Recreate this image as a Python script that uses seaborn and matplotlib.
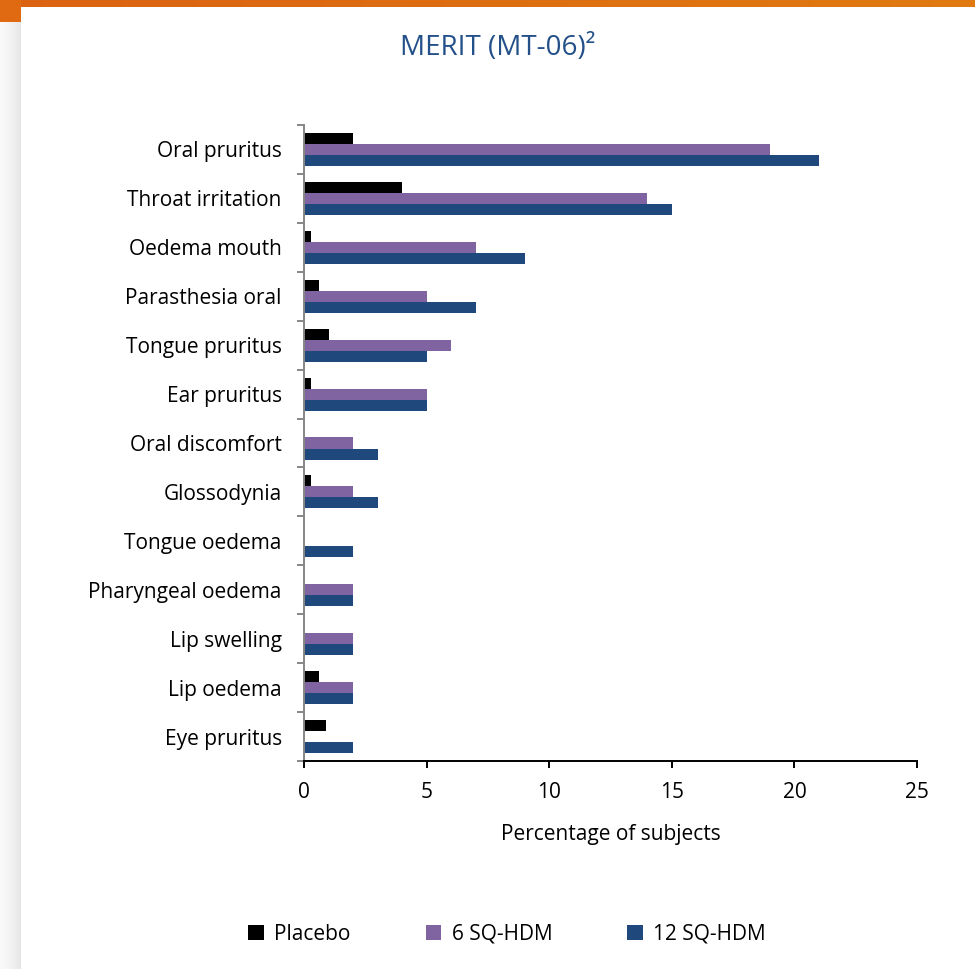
import numpy as np
import pandas as pd
import matplotlib
matplotlib.use("Agg")
import matplotlib.pyplot as plt
from matplotlib.patches import Patch
import seaborn as sns

# Adverse events by treatment arm (% of subjects)
symptoms = [
    "Oral pruritus", "Throat irritation", "Oedema mouth", "Parasthesia oral",
    "Tongue pruritus", "Ear pruritus", "Oral discomfort", "Glossodynia",
    "Tongue oedema", "Pharyngeal oedema", "Lip swelling", "Lip oedema",
    "Eye pruritus",
]
groups = ["Placebo", "6 SQ-HDM", "12 SQ-HDM"]
placebo = [2, 4, 0.3, 0.6, 1, 0.3, 0, 0.3, 0, 0, 0, 0.6, 0.9]
sq6 = [19, 14, 7, 5, 6, 5, 2, 2, 0, 2, 2, 2, 0]
sq12 = [21, 15, 9, 7, 5, 5, 3, 3, 2, 2, 2, 2, 2]
x_ticks = [0, 5, 10, 15, 20, 25]

colors = {"Placebo": "#000000", "6 SQ-HDM": "#8064A2", "12 SQ-HDM": "#1F497D"}

df = pd.DataFrame({
    "symptom": symptoms * 3,
    "group": [g for g in groups for _ in symptoms],
    "pct": placebo + sq6 + sq12,
})

sns.set_theme(style="white")
plt.rcParams["font.family"] = ["Open Sans", "DejaVu Sans"]

W, H = 975, 969
fig = plt.figure(figsize=(W / 100, H / 100), dpi=100)
fig.patch.set_facecolor("white")

# Page decoration: orange header band and grey left margin
band = fig.add_axes([0, 1 - 7 / H, 1, 7 / H])
band.imshow(np.linspace(0, 1, 256)[None, :], aspect="auto",
            cmap=matplotlib.colors.LinearSegmentedColormap.from_list(
                "o", ["#DB6212", "#E07A10"]))
band.axis("off")
corner = fig.add_axes([0, 1 - 22 / H, 21 / W, 22 / H])
corner.set_facecolor("#DF6A12")
corner.set_xticks([]); corner.set_yticks([])
for s in corner.spines.values():
    s.set_visible(False)
margin = fig.add_axes([0, 0, 21 / W, 1 - 22 / H])
margin.imshow(np.linspace(0, 1, 64)[None, :], aspect="auto",
              cmap=matplotlib.colors.LinearSegmentedColormap.from_list(
                  "g", ["#FBFBFB", "#F3F3F3", "#E6E6E6"]))
margin.axis("off")

ax = fig.add_axes([304 / W, 1 - 761 / H, (917 - 304) / W, (761 - 125) / H])
sns.barplot(data=df, y="symptom", x="pct", hue="group", order=symptoms,
            hue_order=groups, palette=colors, orient="h", width=0.675,
            saturation=1, linewidth=0, legend=False, ax=ax)

ax.set_xlim(0, 25)
ax.set_xticks(x_ticks)
ax.set_xticklabels([str(t) for t in x_ticks], fontsize=15)
ax.set_ylim(len(symptoms) - 0.5, -0.5)
ax.set_yticks(range(len(symptoms)))
ax.set_yticklabels(symptoms, fontsize=15)
ax.set_yticks(np.arange(-0.5, len(symptoms), 1), minor=True)
ax.tick_params(axis="y", which="major", length=0, pad=16, colors="#000000")
ax.tick_params(axis="y", which="minor", left=True, length=5, width=1.4,
               color="#868686")
ax.tick_params(axis="x", which="major", bottom=True, length=5, width=1.4,
               color="black", pad=10, labelcolor="#000000")
ax.set_xlabel("Percentage of subjects", fontsize=15, color="#000000",
              labelpad=15)
ax.set_ylabel("")
for side in ("top", "right"):
    ax.spines[side].set_visible(False)
ax.spines["left"].set_color("#868686")
ax.spines["left"].set_linewidth(1.4)
ax.spines["bottom"].set_color("black")
ax.spines["bottom"].set_linewidth(1.4)
ax.grid(False)

fig.text(498 / W, 1 - 48 / H, "MERIT (MT-06)²", ha="center", va="center",
         fontsize=20, color="#24508A")

handles = [Patch(facecolor=colors[g], edgecolor="none") for g in groups]
fig.legend(handles, groups, loc="center", bbox_to_anchor=(507 / W, 1 - 934 / H),
           ncol=3, frameon=False, fontsize=15, handlelength=0.75,
           handleheight=0.75, handletextpad=0.5, columnspacing=3.6,
           labelcolor="#000000")

fig.savefig("out.png", dpi=100, facecolor="white")
